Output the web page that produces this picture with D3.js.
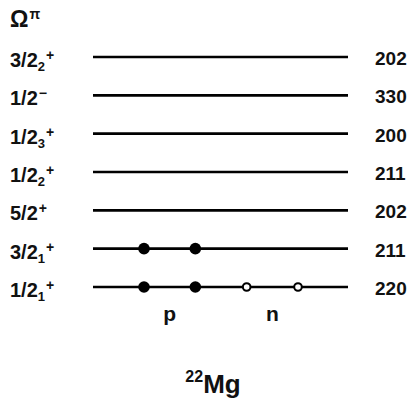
<!DOCTYPE html>
<html>
<head>
<meta charset="utf-8">
<script src="https://cdn.jsdelivr.net/npm/d3@7"></script>
<style>
  html, body { margin: 0; padding: 0; background: #fff; }
  svg { display: block; font-family: Arial, "Liberation Sans", sans-serif; font-weight: bold; }
</style>
</head>
<body>
<svg id="chart" width="414" height="403"></svg>
<script>
// Nilsson orbitals, top to bottom: main label, subscript, parity superscript
const levelMain = ["3/2", "1/2", "1/2", "1/2", "5/2", "3/2", "1/2"];
const levelSub  = ["2", "", "3", "2", "", "1", "1"];
const levelPar  = ["+", "\u2212", "+", "+", "+", "+", "+"];
// asymptotic quantum numbers [N nz Λ]
const levelValues = ["202", "330", "200", "211", "202", "211", "220"];

// particle occupancy per orbital slot: proton slots 0,1 ; neutron slots 2,3
const protonOrbitals = [5, 5, 6, 6];   // indices of levels holding protons
const protonSlots    = [0, 1, 0, 1];
const neutronOrbitals = [6, 6];        // neutron holes
const neutronSlots    = [2, 3];
const groupLabels = ["p", "n"];
const groupCenters = [0.5, 2.5];

const svg = d3.select("#chart");

const y = d3.scalePoint()
  .domain(d3.range(levelMain.length))
  .range([57, 287]);

const xLine = [93, 348];
const xSlot = d3.scaleLinear().domain([0, 3]).range([144, 298]);

// level lines
svg.append("g").selectAll("line")
  .data(levelMain)
  .join("line")
  .attr("x1", xLine[0]).attr("x2", xLine[1])
  .attr("y1", (d, i) => y(i)).attr("y2", (d, i) => y(i))
  .attr("stroke", "#000").attr("stroke-width", 2.6);

// left labels
const lab = svg.append("g").selectAll("text")
  .data(levelMain)
  .join("text")
  .attr("x", 10)
  .attr("y", (d, i) => y(i) + 10)
  .attr("font-size", 20)
  .attr("fill", "#111");
lab.append("tspan").text(d => d);
lab.append("tspan")
  .attr("font-size", 13).attr("dy", 4)
  .text((d, i) => levelSub[i]);
lab.append("tspan")
  .attr("font-size", 14)
  .attr("dx", 1)
  .attr("dy", (d, i) => levelSub[i] ? -11 : -7)
  .text((d, i) => levelPar[i]);

// right quantum numbers
svg.append("g").selectAll("text")
  .data(levelValues)
  .join("text")
  .attr("x", 375)
  .attr("y", (d, i) => y(i) + 8)
  .attr("font-size", 19)
  .attr("fill", "#111")
  .text(d => d);

// header Ω^π
const hdr = svg.append("text").attr("x", 10).attr("y", 27).attr("font-size", 23).attr("fill", "#111");
hdr.append("tspan").text("\u03A9");
hdr.append("tspan").attr("font-size", 14).attr("dx", 1).attr("dy", -8).text("\u03C0");

// protons (filled)
svg.append("g").selectAll("circle")
  .data(protonOrbitals)
  .join("circle")
  .attr("cx", (d, i) => xSlot(protonSlots[i]))
  .attr("cy", d => y(d))
  .attr("r", 5.8)
  .attr("fill", "#000");

// neutrons (open)
svg.append("g").selectAll("circle")
  .data(neutronOrbitals)
  .join("circle")
  .attr("cx", (d, i) => xSlot(neutronSlots[i]))
  .attr("cy", d => y(d))
  .attr("r", 3.8)
  .attr("fill", "#fff")
  .attr("stroke", "#000").attr("stroke-width", 2);

// group labels
svg.append("g").selectAll("text")
  .data(groupLabels)
  .join("text")
  .attr("x", (d, i) => xSlot(groupCenters[i]))
  .attr("y", 321)
  .attr("text-anchor", "middle")
  .attr("font-size", 21)
  .attr("fill", "#111")
  .text(d => d);

// nucleus label
const nuc = svg.append("text").attr("x", 213).attr("y", 393).attr("text-anchor", "middle").attr("font-size", 26).attr("fill", "#111");
nuc.append("tspan").attr("font-size", 16).attr("dy", -11).text("22");
nuc.append("tspan").attr("dy", 11).text("Mg");
</script>
</body>
</html>
